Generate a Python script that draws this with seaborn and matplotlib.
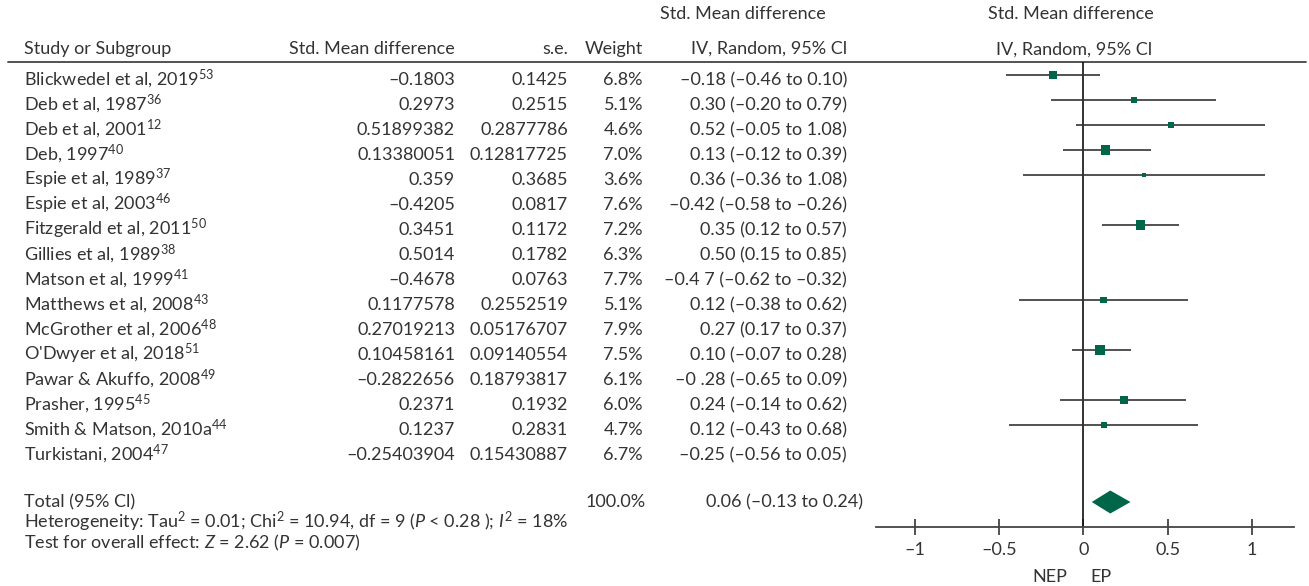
import numpy as np
import pandas as pd
import matplotlib
matplotlib.use("Agg")
import matplotlib.pyplot as plt
import seaborn as sns

# ---- data -------------------------------------------------------------
studies = ["Blickwedel et al, 2019", "Deb et al, 1987", "Deb et al, 2001", "Deb, 1997",
           "Espie et al, 1989", "Espie et al, 2003", "Fitzgerald et al, 2011",
           "Gillies et al, 1989", "Matson et al, 1999", "Matthews et al, 2008",
           "McGrother et al, 2006", "O'Dwyer et al, 2018", "Pawar & Akuffo, 2008",
           "Prasher, 1995", "Smith & Matson, 2010a", "Turkistani, 2004"]
refs = ["53", "36", "12", "40", "37", "46", "50", "38", "41", "43", "48", "51", "49", "45", "44", "47"]
smd_txt = ["–0.1803", "0.2973", "0.51899382", "0.13380051", "0.359", "–0.4205", "0.3451",
           "0.5014", "–0.4678", "0.1177578", "0.27019213", "0.10458161", "–0.2822656",
           "0.2371", "0.1237", "–0.25403904"]
se_txt = ["0.1425", "0.2515", "0.2877786", "0.12817725", "0.3685", "0.0817", "0.1172",
          "0.1782", "0.0763", "0.2552519", "0.05176707", "0.09140554", "0.18793817",
          "0.1932", "0.2831", "0.15430887"]
weights = [6.8, 5.1, 4.6, 7.0, 3.6, 7.6, 7.2, 6.3, 7.7, 5.1, 7.9, 7.5, 6.1, 6.0, 4.7, 6.7]
ci_txt = ["–0.18 (–0.46 to 0.10)", "0.30 (–0.20 to 0.79)", "0.52 (–0.05 to 1.08)",
          "0.13 (–0.12 to 0.39)", "0.36 (–0.36 to 1.08)", "–0.42 (–0.58 to –0.26)",
          "0.35 (0.12 to 0.57)", "0.50 (0.15 to 0.85)", "–0.4 7 (–0.62 to –0.32)",
          "0.12 (–0.38 to 0.62)", "0.27 (0.17 to 0.37)", "0.10 (–0.07 to 0.28)",
          "–0 .28 (–0.65 to 0.09)", "0.24 (–0.14 to 0.62)", "0.12 (–0.43 to 0.68)",
          "–0.25 (–0.56 to 0.05)"]

# what is actually drawn in the forest panel (blank rows have no marker)
nan = np.nan
est = [-0.18, 0.30, 0.52, 0.13, 0.36, nan, 0.34, nan, nan, 0.12, nan, 0.10, nan, 0.24, 0.125, nan]
lo = [-0.46, -0.19, -0.045, -0.12, -0.36, nan, 0.11, nan, nan, -0.38, nan, -0.07, nan, -0.14, -0.44, nan]
hi = [0.10, 0.79, 1.08, 0.40, 1.08, nan, 0.57, nan, nan, 0.62, nan, 0.28, nan, 0.61, 0.68, nan]
total_est, total_lo, total_hi = 0.16, 0.05, 0.28

ticks = [-1, -0.5, 0, 0.5, 1]
tick_labels = ["–1", "–0.5", "0", "0.5", "1"]

# ---- style ------------------------------------------------------------
sns.set_theme(style="white")
plt.rcParams["font.family"] = ["Lato", "DejaVu Sans"]
plt.rcParams["mathtext.fontset"] = "custom"
plt.rcParams["mathtext.default"] = "regular"
plt.rcParams["mathtext.rm"] = "Lato"
plt.rcParams["mathtext.it"] = "Lato:italic"

txt_col = "#333333"
green = "#00664a"
fs = 13

W, H = 1309, 586
fig = plt.figure(figsize=(W / 100, H / 100), dpi=100)

# text layer in pixel coordinates
tab = fig.add_axes([0, 0, 1, 1])
tab.set_xlim(0, W)
tab.set_ylim(H, 0)
tab.axis("off")

def t(x, y, s, ha="left", **kw):
    tab.text(x, y, s, ha=ha, va="baseline", fontsize=fs, color=txt_col, **kw)

# headers
t(743, 19, "Std. Mean difference", ha="center")
t(1071, 19, "Std. Mean difference", ha="center")
t(24, 54, "Study or Subgroup")
t(455, 54, "Std. Mean difference", ha="right")
t(568, 54, "s.e.", ha="right")
t(643, 54, "Weight", ha="right")
t(847, 54, "IV, Random, 95% Cl", ha="right")
t(1074, 55, "IV, Random, 95% Cl", ha="center")
tab.plot([8, 1306], [62, 62], color="#444444", lw=1.3)

for i, name in enumerate(studies):
    yb = 85 + 25 * i
    t(24, yb, name + "$^{" + refs[i] + "}$")
    t(455, yb, smd_txt[i], ha="right")
    t(568, yb, se_txt[i], ha="right")
    t(643, yb, f"{weights[i]:.1f}%", ha="right")
    t(847, yb, ci_txt[i], ha="right")

t(24, 507, "Total (95% Cl)")
t(646, 507, "100.0%", ha="right")
t(706, 507, "0.06 (–0.13 to 0.24)")
t(24, 528, r"Heterogeneity: Tau$^{2}$ = 0.01; Chi$^{2}$ = 10.94, df = 9 ($\mathit{P}$ < 0.28 ); "
           r"$\mathit{I}^{2}$ = 18%")
t(24, 548, r"Test for overall effect: $\mathit{Z}$ = 2.62 ($\mathit{P}$ = 0.007)")
t(1050, 582, "NEP", ha="center")
t(1101, 582, "EP", ha="center")

# ---- forest panel -----------------------------------------------------
x0, x1 = 876, 1294
y_top, y_bot = 62, 527
ax = fig.add_axes([x0 / W, 1 - y_bot / H, (x1 - x0) / W, (y_bot - y_top) / H])
ax.patch.set_alpha(0)
ax.set_xlim(-1.23, 1.25)
ax.set_ylim(18.0, -0.6)

df = pd.DataFrame({"row": np.arange(len(studies)), "est": est, "lo": lo, "hi": hi,
                   "weight": weights}).dropna()

ax.axvline(0, color="#111111", lw=1.2, zorder=1)
ax.hlines(df["row"] - 0.08, df["lo"], df["hi"], color="#333333", lw=1.2, zorder=2)
sns.scatterplot(data=df, x="est", y=df["row"] - 0.08, size="weight", sizes=(8, 48),
                size_norm=(3.6, 7.5), marker="s", color=green, edgecolor="none",
                legend=False, ax=ax, zorder=3)
ax.fill([total_lo, total_est, total_hi, total_est], [17, 17 - 0.46, 17, 17 + 0.46],
        color=green, lw=0, zorder=3)

for side in ["left", "right", "top"]:
    ax.spines[side].set_visible(False)
ax.spines["bottom"].set_color("#444444")
ax.spines["bottom"].set_linewidth(1.3)
ax.set_xticks(ticks)
ax.set_xticklabels(tick_labels)
ax.set_yticks([])
ax.tick_params(axis="x", direction="inout", length=11.5, width=1.2, color="#333333",
               pad=5, labelsize=fs, labelcolor=txt_col, bottom=True)
ax.set_xlabel("")
ax.set_ylabel("")

fig.savefig("out.png", dpi=100)
